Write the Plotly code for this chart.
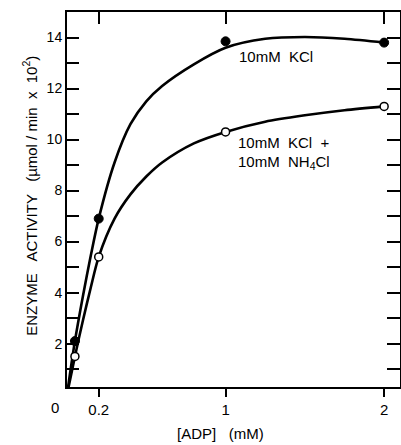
import plotly.graph_objects as go

# measured points
adp_pts = [0.05, 0.2, 1.0, 2.0]
kcl_pts = [2.1, 6.9, 13.85, 13.8]
nh4_pts = [1.5, 5.4, 10.3, 11.3]

# hand-read fitted curves
curve_x = [0.0, 0.05, 0.1, 0.15, 0.2, 0.3, 0.4, 0.5, 0.6, 0.8, 1.0, 1.25, 1.5, 1.75, 2.0]
kcl_curve_y = [0.0, 2.1, 3.85, 5.45, 6.9, 9.1, 10.6, 11.5, 12.1, 12.95, 13.6, 13.95, 14.02, 13.95, 13.8]
nh4_curve_y = [0.0, 1.5, 2.9, 4.2, 5.4, 6.9, 7.85, 8.55, 9.1, 9.85, 10.3, 10.7, 10.95, 11.15, 11.3]

x_ticks = [0.2, 1, 2]
x_ticktext = ["0.2", "1", "2"]
y_ticks = list(range(1, 15))
y_ticktext = [str(v) if v % 2 == 0 else "" for v in y_ticks]

FONT = "Liberation Sans, Arial, sans-serif"

fig = go.Figure()
for cy in [kcl_curve_y, nh4_curve_y]:
    fig.add_trace(go.Scatter(x=curve_x, y=cy, mode="lines",
                             line=dict(color="black", width=2.6, shape="spline", smoothing=0.8),
                             hoverinfo="skip"))
fig.add_trace(go.Scatter(x=adp_pts, y=kcl_pts, mode="markers",
                         marker=dict(size=9, color="black", line=dict(color="black", width=1))))
fig.add_trace(go.Scatter(x=adp_pts, y=nh4_pts, mode="markers",
                         marker=dict(size=8, color="white", line=dict(color="black", width=1.5))))
fig.add_trace(go.Scatter(x=[None], y=[None], xaxis="x2", yaxis="y2", showlegend=False))

axis_common = dict(showgrid=False, zeroline=False, showline=True, linecolor="black", linewidth=2,
                   tickcolor="black", tickwidth=2, mirror=False)

fig.update_layout(
    width=401, height=445,
    margin=dict(l=67, r=1, t=12, b=58),
    paper_bgcolor="white", plot_bgcolor="white",
    showlegend=False,
    font=dict(family=FONT, color="black", size=14),
    xaxis=dict(range=[0, 2.1], tickvals=x_ticks, ticktext=x_ticktext, ticks="outside", ticklen=8,
               tickfont=dict(size=15), **axis_common),
    xaxis2=dict(range=[0, 2.1], overlaying="x", side="top", tickvals=x_ticks, ticks="inside", ticklen=12,
                showticklabels=False, **axis_common),
    yaxis=dict(range=[0.3, 15], tickvals=y_ticks, ticktext=y_ticktext, ticks="inside", ticklen=12,
               tickfont=dict(size=14), **axis_common),
    yaxis2=dict(range=[0.3, 15], overlaying="y", side="right", tickvals=y_ticks, ticks="inside", ticklen=13,
                showticklabels=False, **axis_common),
)

fig.add_annotation(x=-0.036, y=-0.055, xref="paper", yref="paper", text="0", showarrow=False,
                   xanchor="center", yanchor="middle", font=dict(size=15))
fig.add_annotation(x=1.075, y=13.25, xref="x", yref="y", text="10mM  KCl", showarrow=False,
                   xanchor="left", yanchor="middle", font=dict(size=15))
fig.add_annotation(x=1.063, y=9.88, xref="x", yref="y", text="10mM  KCl  +", showarrow=False,
                   xanchor="left", yanchor="middle", font=dict(size=15))
fig.add_annotation(x=1.063, y=9.12, xref="x", yref="y", text="10mM  NH<sub>4</sub>Cl", showarrow=False,
                   xanchor="left", yanchor="middle", font=dict(size=15))
fig.add_annotation(x=0.46, y=-0.123, xref="paper", yref="paper", text="[ADP]   (mM)", showarrow=False,
                   xanchor="center", yanchor="middle", font=dict(size=15))
fig.add_annotation(x=-0.111, y=0.51, xref="paper", yref="paper", textangle=-90,
                   text="ENZYME   ACTIVITY   (µmol / min  x  10<sup>2</sup>)", showarrow=False,
                   xanchor="center", yanchor="middle", font=dict(size=15))

fig.write_html("out.html")
